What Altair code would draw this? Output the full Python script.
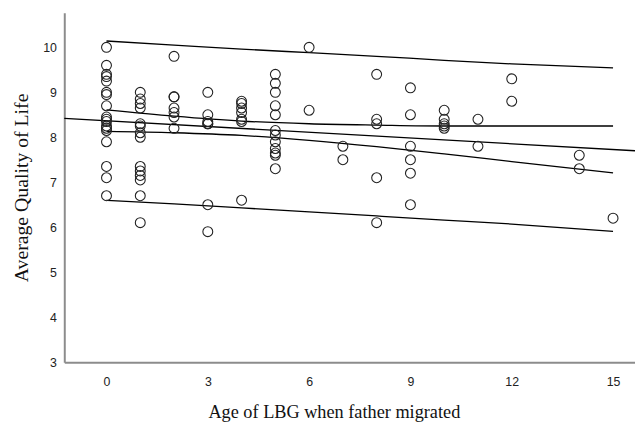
import altair as alt
import pandas as pd

# Scatter data: age of LBG when father migrated vs average quality of life
age = (
    [0] * 18 + [1] * 14 + [2] * 7 + [3] * 7 + [4] * 7 + [5] * 12 + [6] * 2 + [7] * 2
    + [8] * 5 + [9] * 6 + [10] * 5 + [11] * 2 + [12] * 2 + [14] * 2 + [15] * 1
)
qol = (
    [10.0, 9.6, 9.4, 9.35, 9.25, 9.0, 8.95, 8.7, 8.45, 8.4, 8.35, 8.25, 8.2, 8.15, 7.9, 7.35, 7.1, 6.7]
    + [9.0, 8.85, 8.75, 8.65, 8.3, 8.25, 8.1, 8.0, 7.35, 7.25, 7.15, 7.05, 6.7, 6.1]
    + [9.8, 8.9, 8.9, 8.65, 8.55, 8.45, 8.2]
    + [9.0, 8.5, 8.35, 8.3, 8.3, 6.5, 5.9]
    + [8.8, 8.75, 8.65, 8.55, 8.4, 8.35, 6.6]
    + [9.4, 9.2, 9.0, 8.7, 8.5, 8.15, 8.05, 7.9, 7.75, 7.65, 7.6, 7.3]
    + [10.0, 8.6]
    + [7.8, 7.5]
    + [9.4, 8.4, 8.3, 7.1, 6.1]
    + [9.1, 8.5, 7.8, 7.5, 7.2, 6.5]
    + [8.6, 8.4, 8.3, 8.25, 8.2]
    + [8.4, 7.8]
    + [9.3, 8.8]
    + [7.6, 7.3]
    + [6.2]
)

# Fit line (spans the whole x axis)
fit_x = [-1.25, 15.65]
fit_y = [8.42, 7.70]

# Confidence (mean) and prediction interval curves, read at these x values
band_x = [0, 2, 4, 6, 8, 10, 12, 15]
ci_upper = [8.61, 8.47, 8.36, 8.30, 8.27, 8.25, 8.25, 8.25]
ci_lower = [8.13, 8.10, 8.04, 7.93, 7.79, 7.63, 7.46, 7.21]
pi_upper = [10.14, 10.05, 9.96, 9.88, 9.80, 9.71, 9.63, 9.54]
pi_lower = [6.60, 6.52, 6.43, 6.34, 6.25, 6.16, 6.07, 5.91]

x_ticks = [0, 3, 6, 9, 12, 15]
y_ticks = [3, 4, 5, 6, 7, 8, 9, 10]

points = pd.DataFrame({"age": age, "qol": qol})
fit = pd.DataFrame({"age": fit_x, "qol": fit_y})
curves = pd.concat(
    [
        pd.DataFrame({"age": band_x, "qol": vals, "curve": name})
        for name, vals in [
            ("ci_upper", ci_upper),
            ("ci_lower", ci_lower),
            ("pi_upper", pi_upper),
            ("pi_lower", pi_lower),
        ]
    ],
    ignore_index=True,
)

x_scale = alt.Scale(domain=[-1.25, 15.65], nice=False, zero=False)
y_scale = alt.Scale(domain=[3, 10.77], nice=False, zero=False)
x_axis = alt.Axis(title="Age of LBG when father migrated", values=x_ticks,
                  labelPadding=14, titlePadding=15, titleFontSize=18.5,
                  titleX=273, titleAlign="center")
y_axis = alt.Axis(title="Average Quality of Life", values=y_ticks,
                  labelPadding=8, titlePadding=11, titleFontSize=20)

X = alt.X("age:Q", scale=x_scale, axis=x_axis)
Y = alt.Y("qol:Q", scale=y_scale, axis=y_axis)

scatter = alt.Chart(points).mark_point(
    shape="circle", filled=False, size=100, stroke="#222222", strokeWidth=1.1, opacity=1
).encode(x=X, y=Y)

fit_line = alt.Chart(fit).mark_line(color="black", strokeWidth=1.3).encode(x=X, y=Y)

curve_lines = alt.Chart(curves).mark_line(
    color="black", strokeWidth=1.3, interpolate="monotone"
).encode(x=X, y=Y, detail="curve:N")

chart = alt.layer(curve_lines, fit_line, scatter).properties(
    width=578,
    height=354,
    autosize=alt.AutoSizeParams(type="none"),
    padding={"left": 57, "top": 2, "right": 0, "bottom": 68},
).configure_view(
    stroke=None
).configure_axis(
    grid=False,
    ticks=False,
    domainColor="#8c8c8c",
    domainWidth=2,
    labelFont="Liberation Sans",
    labelFontSize=12.5,
    labelColor="#222222",
    titleFont="Liberation Serif",
    titleFontWeight="normal",
    titleColor="#111111",
)

chart.save("out.html", embed_options={"renderer": "svg", "actions": False})
